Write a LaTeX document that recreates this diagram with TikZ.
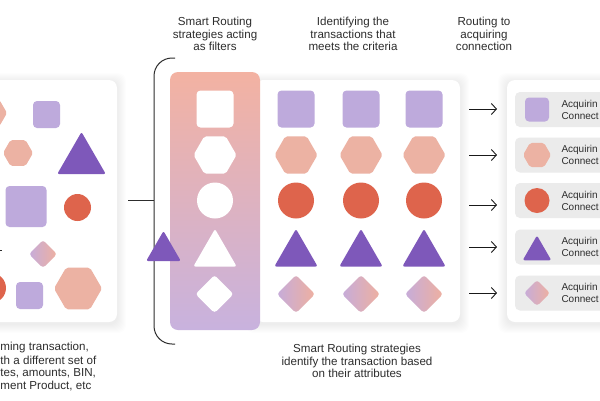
\documentclass[tikz,border=0pt]{standalone}
\usepackage{fontspec}
\setmainfont{Liberation Sans}
\usetikzlibrary{shapes.geometric,arrows.meta}
\definecolor{lav}{RGB}{190,170,220}
\definecolor{pinkh}{RGB}{236,178,163}
\definecolor{redc}{RGB}{222,100,76}
\definecolor{purp}{RGB}{126,88,186}
\definecolor{dlav}{RGB}{198,172,218}
\definecolor{dpink}{RGB}{238,176,160}
\definecolor{ftop}{RGB}{243,178,162}
\definecolor{fbot}{RGB}{200,178,222}
\definecolor{greybox}{RGB}{235,235,235}
\definecolor{txt}{RGB}{45,45,45}
\newcommand\softshadow[4]{%
  \foreach \e in {1,...,9}{%
    \fill[black,opacity=0.009,rounded corners=8pt]
      (#1-\e,#2-\e+2) rectangle (#3+\e,#4+\e+2);}}
\begin{document}
\begin{tikzpicture}[x=1pt,y=-1pt,
  every node/.style={inner sep=0pt,outer sep=0pt},
  panel/.style={rectangle,fill=white,rounded corners=8pt},
  sq/.style={rectangle,fill=lav,rounded corners=4pt,minimum size=#1},
  hexs/.style={regular polygon,regular polygon sides=6,fill=pinkh,rounded corners=2pt,minimum size=#1},
  circ/.style={circle,fill=redc,minimum size=#1},
  tri/.style={regular polygon,regular polygon sides=3,fill=purp,rounded corners=2pt,minimum size=#1},
  dia/.style={diamond,aspect=1,left color=dlav,right color=dpink,rounded corners=3pt,minimum width=#1,minimum height=#1},
  captxt/.style={align=center,font=\fontsize{11.6}{12.6}\selectfont,text=txt},
  sidetxt/.style={anchor=west,font=\fontsize{11.6}{13}\selectfont,text=txt},
  acqbox/.style={rectangle,fill=greybox,rounded corners=5pt,minimum width=110pt,minimum height=35pt,anchor=west},
  acqtxt/.style={align=left,anchor=west,font=\fontsize{10}{12}\selectfont,text=txt},
  arr/.style={-{Straight Barb[length=5pt,width=11pt]},line width=0.9pt,draw=black!90},
  brk/.style={draw=txt,line width=1pt}]
\useasboundingbox (0,0) rectangle (600,400);
\clip (0,0) rectangle (600,400);
\fill[white] (0,0) rectangle (600,400);

% captions
\node[captxt] (t1) at (215,34) {Smart Routing\\strategies acting\\as filters};
\node[captxt] (t2) at (353,34) {Identifying the\\transactions that\\meets the criteria};
\node[captxt] (t3) at (484,34) {Routing to\\acquiring\\connection};
\node[sidetxt] (b1a) at (0.5,347) {ming transaction,};
\node[sidetxt] (b1b) at (0.5,360) {th a different set of};
\node[sidetxt] (b1c) at (0.5,373) {tes, amounts, BIN,};
\node[sidetxt] (b1d) at (0.5,386) {ment Product, etc};
\node[captxt] (b2) at (357,361) {Smart Routing strategies\\identify the transaction based\\on their attributes};

% left panel
\softshadow{-40}{80}{117}{322}
\node[panel,minimum width=157pt,minimum height=242pt] (lp) at (38.5,201) {};
\node[hexs=30] (l1) at (-8,113) {};
\node[sq=27] (l2) at (46.5,114.5) {};
\node[hexs=30] (l3) at (18,153) {};
\node[tri=56] (l4) at (81.5,160) {};
\node[sq=41] (l5) at (26,206.5) {};
\node[circ=27] (l6) at (77.5,207.5) {};
\node[dia=28] (l7) at (43,254) {};
\node[circ=30] (l8) at (-9,288) {};
\node[sq=27] (l9) at (29.5,295.5) {};
\node[hexs=48] (l10) at (78,288.5) {};
\coordinate (dotA) at (0,250);
\coordinate (dotB) at (2,250);
\draw[txt,line width=1pt] (dotA) -- (dotB);

% connector and bracket
\coordinate (cs) at (128,200);
\coordinate (cm) at (154,200);
\coordinate (btop) at (175,58);
\coordinate (bbot) at (175,344);
\draw[brk] (cs) -- (cm);
\draw[brk,rounded corners=18pt] (btop) -- (154,58) -- (154,344) -- (bbot);

% middle panel
\softshadow{255}{80}{460}{322}
\node[panel,minimum width=205pt,minimum height=242pt] (mp) at (357.5,201) {};

% filter panel
\node[rectangle,rounded corners=8pt,top color=ftop,bottom color=fbot,minimum width=90pt,minimum height=258pt] (fp) at (215,201) {};
\node[sq=37,fill=white] (f1) at (215,109) {};
\node[hexs=43,fill=white] (f2) at (215,155) {};
\node[circ=36,fill=white] (f3) at (215,200.5) {};
\node[tri=50,fill=white] (f4) at (215,254) {};
\node[diamond,aspect=1,fill=white,rounded corners=3pt,minimum width=38pt,minimum height=38pt] (f5) at (214.5,294) {};
\node[tri=40] (bt) at (163.5,251) {};

% grid
\foreach \c/\x in {1/296,2/361,3/424}{
  \node[sq=37] (g\c a) at (\x,109) {};
  \node[hexs=43] (g\c b) at (\x,155) {};
  \node[circ=36] (g\c c) at (\x,200.5) {};
  \node[tri=50] (g\c d) at (\x,254) {};
  \node[dia=38] (g\c e) at (\x,294) {};
}

% right panel
\softshadow{507}{80}{640}{322}
\node[panel,minimum width=133pt,minimum height=242pt] (rp) at (573.5,201) {};
\foreach \i/\y in {1/109.5,2/155,3/200.5,4/247,5/293}{
  \node[acqbox] (r\i) at (515,\y) {};
  \node[acqtxt] (rt\i) at (561.5,\y) {Acquirin\\Connect};
}
\node[sq=24] (ri1) at (537,109.5) {};
\node[hexs=28] (ri2) at (537,155) {};
\node[circ=25] (ri3) at (537,200.5) {};
\node[tri=33] (ri4) at (537,252) {};
\node[dia=26] (ri5) at (537,293) {};

% arrows
\foreach \i/\y in {1/109,2/155,3/205,4/247,5/293}{
  \coordinate (as\i) at (469,\y);
  \coordinate (ae\i) at (497,\y);
  \draw[arr] (as\i) -- (ae\i);
}
\end{tikzpicture}
\end{document}
